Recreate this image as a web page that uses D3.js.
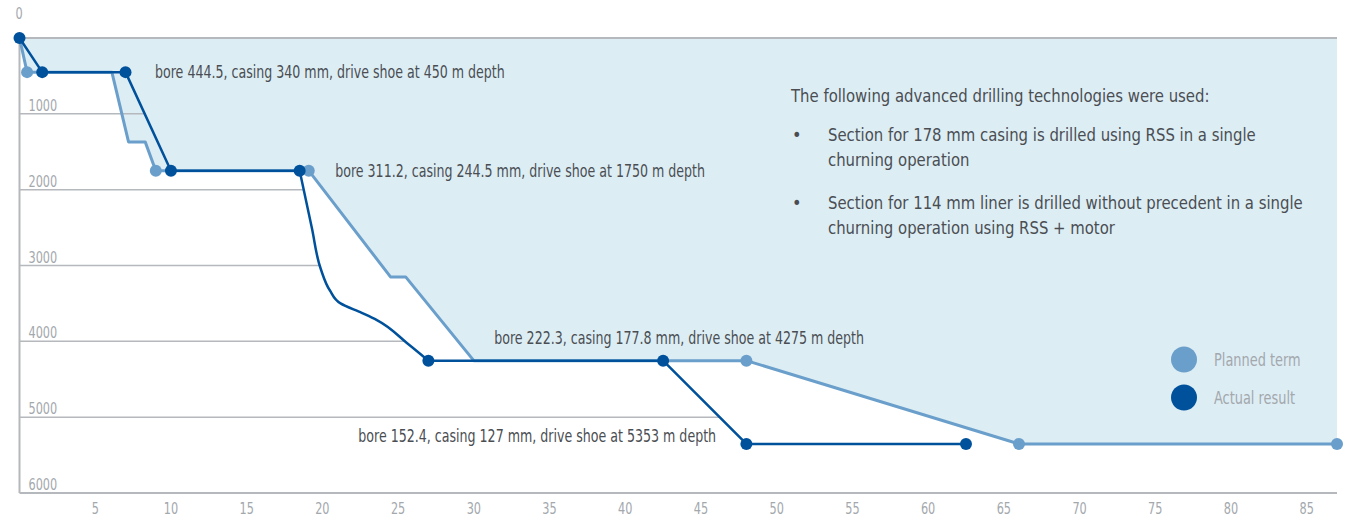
<!DOCTYPE html>
<html>
<head>
<meta charset="utf-8">
<script src="https://cdn.jsdelivr.net/npm/d3@7"></script>
<style>
  body { margin: 0; background: #fff; }
  svg { display: block; font-family: "Liberation Sans Narrow", "DejaVu Sans Condensed", "Roboto", sans-serif; }
</style>
</head>
<body>
<div id="chart"></div>
<script>
// days (x) vs depth in metres (y)
const planned = [[0, 0], [0.5, 450], [6.1, 450], [7.2, 1370], [8.3, 1370], [9.0, 1750],
  [19.1, 1750], [24.5, 3150], [25.5, 3150], [30.0, 4255], [48.0, 4255], [66.0, 5353], [87.0, 5353]];
const plannedDots = [[0.5, 450], [9.0, 1750], [19.1, 1750], [48.0, 4255], [66.0, 5353], [87.0, 5353]];

const actualA = [[0, 0], [1.5, 450], [7.0, 450], [10.0, 1750], [18.5, 1750]];
const actualCurve = [[18.5, 1750], [19.3, 2500], [19.9, 3050], [20.5, 3330], [21.2, 3500],
  [22.6, 3625], [23.6, 3720], [25.6, 4025], [27.0, 4255]];
const actualB = [[27.0, 4255], [42.5, 4255], [48.0, 5353], [62.5, 5353]];
const actualDots = [[0, 0], [1.5, 450], [7.0, 450], [10.0, 1750], [18.5, 1750], [27.0, 4255], [42.5, 4255], [48.0, 5353], [62.5, 5353]];

const xTicks = [5, 10, 15, 20, 25, 30, 35, 40, 45, 50, 55, 60, 65, 70, 75, 80, 85];
const yTicks = [0, 1000, 2000, 3000, 4000, 5000, 6000];

const annotations = [
  { x: 7.1, y: 450, text: "bore 444.5, casing 340 mm, drive shoe at 450 m depth", anchor: "start" },
  { x: 19.0, y: 1750, text: "bore 311.2, casing 244.5 mm, drive shoe at 1750 m depth", anchor: "start" },
  { x: 29.5, y: 3950, text: "bore 222.3, casing 177.8 mm, drive shoe at 4275 m depth", anchor: "start" },
  { x: 46.0, y: 5250, text: "bore 152.4, casing 127 mm, drive shoe at 5353 m depth", anchor: "end" }
];

const infoTitle = "The following advanced drilling technologies were used:";
const infoBullets = [
  ["Section for 178 mm casing is drilled using RSS in a single", "churning operation"],
  ["Section for 114 mm liner is drilled without precedent in a single", "churning operation using RSS + motor"]
];
const legendItems = ["Planned term", "Actual result"];

const colPlanned = "#6a9fcb", colActual = "#00519b", colFill = "#ddedf4";
const colGrid = "#b5b8bc", colTick = "#a3a8ad", colText = "#4a4e53";

var width = 1348, height = 521;
var margin = { top: 38, right: 11, bottom: 28, left: 19.5 };

// squeeze text horizontally to mimic the narrow face of the original
function condense(sel, k) {
  sel.each(function () {
    var w = this.getComputedTextLength();
    d3.select(this).attr("textLength", w * k).attr("lengthAdjust", "spacingAndGlyphs");
  });
}

var svg = d3.select("#chart").append("svg")
  .attr("width", width).attr("height", height);

var x = d3.scaleLinear().domain([0, 87]).range([margin.left, width - margin.right]);
var y = d3.scaleLinear().domain([0, 6000]).range([margin.top, height - margin.bottom]);

var line = d3.line().x(d => x(d[0])).y(d => y(d[1]));
var curveLine = d3.line().x(d => x(d[0])).y(d => y(d[1])).curve(d3.curveMonotoneY);

// full actual path, linear pieces joined with the smoothed middle piece
var actualD = line(actualA) + curveLine(actualCurve).replace(/^M[^A-Za-z]*/, "") + line(actualB).replace(/^M/, "L");

// blue fill above the planned line
svg.append("path")
  .datum(planned)
  .attr("fill", colFill)
  .attr("d", d3.area().x(d => x(d[0])).y0(y(0)).y1(d => y(d[1])));

// gridlines only to the left of the actual line
svg.append("clipPath").attr("id", "leftOfActual")
  .append("path")
  .attr("d", actualD + "L" + x(62.5) + "," + y(6000) + "L" + x(0) + "," + y(6000) + "Z");

svg.append("g")
  .attr("clip-path", "url(#leftOfActual)")
  .selectAll("line")
  .data(yTicks.filter(d => d > 0 && d < 6000))
  .join("line")
  .attr("x1", x(0)).attr("x2", x(87))
  .attr("y1", d => y(d)).attr("y2", d => y(d))
  .attr("stroke", colGrid).attr("stroke-width", 1.5);

// top and bottom border, y axis line
svg.append("line").attr("x1", x(0)).attr("x2", x(87)).attr("y1", y(0)).attr("y2", y(0))
  .attr("stroke", colGrid).attr("stroke-width", 2);
svg.append("line").attr("x1", x(0)).attr("x2", x(87)).attr("y1", y(6000)).attr("y2", y(6000))
  .attr("stroke", colGrid).attr("stroke-width", 2);
svg.append("line").attr("x1", x(0)).attr("x2", x(0)).attr("y1", y(0)).attr("y2", y(6000))
  .attr("stroke", colGrid).attr("stroke-width", 2);

// y labels sit above their gridlines
svg.append("g").selectAll("text")
  .data(yTicks)
  .join("text")
  .attr("x", d => d === 0 ? x(0) - 4 : x(0) + 9)
  .attr("y", d => d === 0 ? y(d) - 19 : y(d) - 3)
  .attr("fill", colTick)
  .style("font-size", "16.5px")
  .text(d => d)
  .call(condense, 0.76);

// x labels
svg.append("g").selectAll("text")
  .data(xTicks)
  .join("text")
  .attr("x", d => x(d))
  .attr("y", y(6000) + 21)
  .attr("text-anchor", "middle")
  .attr("fill", colTick)
  .style("font-size", "16.5px")
  .text(d => d)
  .call(condense, 0.76);

// planned line
svg.append("path")
  .datum(planned)
  .attr("fill", "none")
  .attr("stroke", colPlanned)
  .attr("stroke-width", 3)
  .attr("stroke-linejoin", "round")
  .attr("d", line);

// actual line
svg.append("path")
  .attr("fill", "none")
  .attr("stroke", colActual)
  .attr("stroke-width", 2.5)
  .attr("stroke-linejoin", "round")
  .attr("d", actualD);

svg.append("g").selectAll("circle")
  .data(plannedDots)
  .join("circle")
  .attr("cx", d => x(d[0])).attr("cy", d => y(d[1]))
  .attr("r", 6).attr("fill", colPlanned);

svg.append("g").selectAll("circle")
  .data(actualDots)
  .join("circle")
  .attr("cx", d => x(d[0])).attr("cy", d => y(d[1]))
  .attr("r", 6).attr("fill", colActual);

// annotations
svg.append("g").selectAll("text")
  .data(annotations)
  .join("text")
  .attr("x", d => x(d.x) + (d.anchor === "start" ? 28 : 0))
  .attr("y", d => y(d.y) + 6)
  .attr("text-anchor", d => d.anchor)
  .attr("fill", colText)
  .style("font-size", "17px")
  .text(d => d.text)
  .call(condense, 0.825);

// info block
var info = svg.append("g").attr("transform", "translate(791,0)");
info.append("text").attr("x", 0).attr("y", 102)
  .attr("fill", colText).style("font-size", "17.5px").text(infoTitle)
  .call(condense, 0.945);
infoBullets.forEach((b, i) => {
  var top = 141 + i * 68;
  info.append("text").attr("x", 1).attr("y", top).attr("fill", colText)
    .style("font-size", "18px").text("\u2022");
  b.forEach((t, j) => {
    info.append("text").attr("x", 37).attr("y", top + j * 25).attr("fill", colText)
      .style("font-size", "17.5px").text(t)
      .call(condense, 0.945);
  });
});

// legend
var legend = svg.append("g").selectAll("g")
  .data(legendItems)
  .join("g")
  .attr("transform", (d, i) => "translate(1184," + (359.5 + i * 38) + ")");
legend.append("circle").attr("r", 13).attr("fill", (d, i) => i === 0 ? colPlanned : colActual);
legend.append("text").attr("x", 30).attr("y", 6)
  .attr("fill", colTick).style("font-size", "17px").text(d => d)
  .call(condense, 0.845);
</script>
</body>
</html>
